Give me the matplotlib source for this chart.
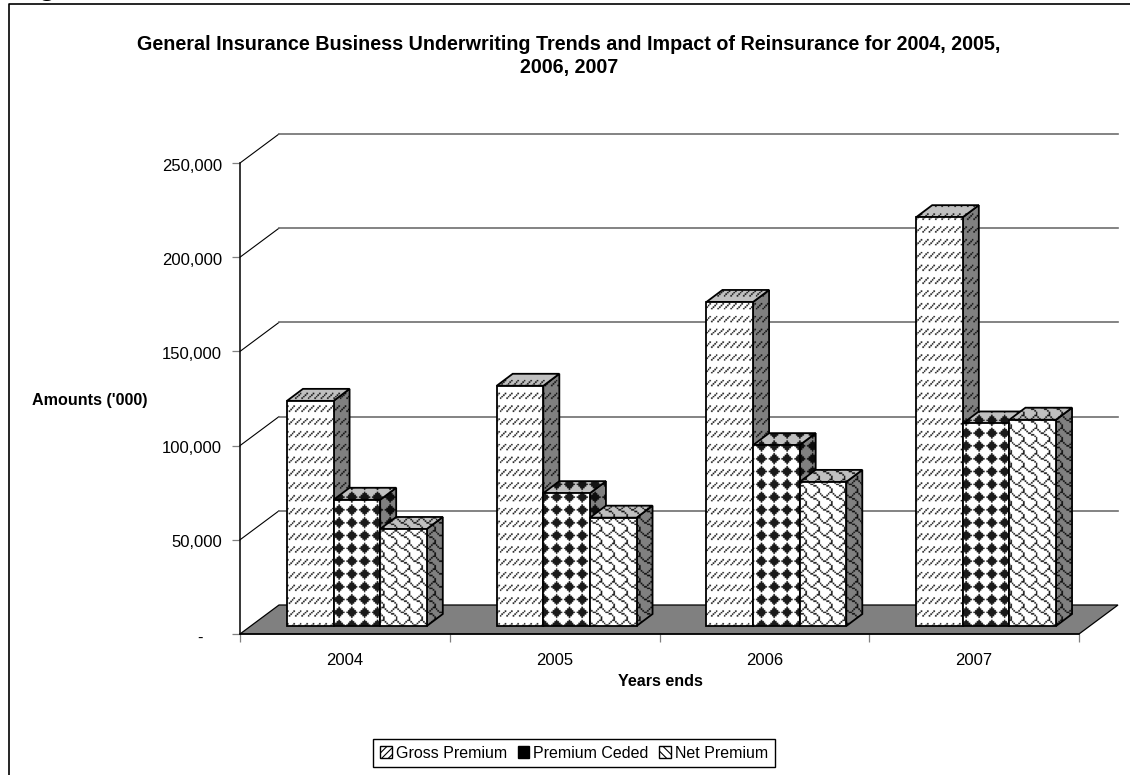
import numpy as np
import matplotlib
matplotlib.use("Agg")
import matplotlib.pyplot as plt
from matplotlib.lines import Line2D
from matplotlib.patches import Patch, Polygon
from matplotlib.transforms import Affine2D, IdentityTransform

plt.rcParams["font.family"] = ["Liberation Sans", "DejaVu Sans"]
plt.rcParams["hatch.linewidth"] = 0.8

YEARS = ["2004", "2005", "2006", "2007"]
SERIES = ["Gross Premium", "Premium Ceded", "Net Premium"]
GROSS = [119500, 127500, 172000, 217000]
CEDED = [67000, 70500, 96000, 107500]
NET = [51500, 57500, 76500, 109500]
Y_TICKS = [0, 50000, 100000, 150000, 200000, 250000]
Y_LABELS = ["-    ", "50,000", "100,000", "150,000", "200,000", "250,000"]

TITLE = ("General Insurance Business Underwriting Trends and Impact of "
         "Reinsurance for 2004, 2005,\n2006, 2007")

W, H = 1130, 775
FONT = 12
GRAY = "#808080"

# 8x8 fill bitmaps, one byte per row
DASHED = [0x11, 0x22, 0x44, 0x88, 0x00, 0x00, 0x00, 0x00]
DIAMOND = [0x10, 0x38, 0x7C, 0xFE, 0x7C, 0x38, 0x10, 0x00]
SHINGLE = [0x03, 0x84, 0x48, 0x30, 0x0C, 0x02, 0x01, 0x01]
CELL = 1.6  # pixels per bitmap cell
OVER = 3    # oversampling of the fill image

fig = plt.figure(figsize=(W / 100, H / 100), dpi=100)
ax = fig.add_axes([240 / W, 1 - 634 / H, (1079 - 240) / W, (634 - 163) / H])
ax.set_xlim(0, 4)
ax.set_ylim(0, 250000)
ax.autoscale(False)
ax.patch.set_alpha(0)
IDENT = IdentityTransform()


def px(x, v, dx=0, dy=0):
    """Data point pushed back by (dx, dy) pixels, in display coordinates."""
    p = ax.transData.transform((x, v))
    return (p[0] + dx, p[1] + dy)


def fill_image(bitmap, phase, x0, x1, y0, y1):
    """RGBA array of the bitmap tiled over a display rectangle."""
    xs = np.arange(x0 * OVER, x1 * OVER) / OVER - phase[0]
    ys = H - np.arange(y1 * OVER, y0 * OVER, -1) / OVER - phase[1]
    cols = (xs / CELL).astype(int) % 8
    rows = (ys / CELL).astype(int) % 8
    bits = np.array([[(b >> (7 - i)) & 1 for i in range(8)] for b in bitmap])
    ink = bits[np.ix_(rows, cols)]
    img = np.zeros(ink.shape + (4,))
    img[..., 3] = ink * 0.9
    return img


def face(points, color, bitmap, phase):
    poly = Polygon(points, closed=True, facecolor=color, edgecolor="none",
                   transform=IDENT, clip_on=False, zorder=3)
    ax.add_patch(poly)
    xy = np.array(points)
    x0, x1 = int(xy[:, 0].min()) - 1, int(xy[:, 0].max()) + 2
    y0, y1 = int(xy[:, 1].min()) - 1, int(xy[:, 1].max()) + 2
    im = ax.imshow(fill_image(bitmap, phase, x0, x1, y0, y1),
                   extent=(x0, x1, y0, y1), transform=IDENT, origin="upper",
                   aspect="auto", zorder=3, interpolation="antialiased")
    im.set_clip_path(poly)
    ax.add_patch(Polygon(points, closed=True, fill=False, edgecolor="black",
                         linewidth=1.3, joinstyle="miter", transform=IDENT,
                         clip_on=False, zorder=3))


def bar3d(x, w, v, bitmap, phase):
    # front plane sits 12,8 px behind the axis, the box is 16,12 px deep
    fx, fy = 12, 8
    dx, dy = 16, 12
    front = [px(x, 0, fx, fy), px(x + w, 0, fx, fy),
             px(x + w, v, fx, fy), px(x, v, fx, fy)]
    side = [px(x + w, 0, fx, fy), px(x + w, 0, fx + dx, fy + dy),
            px(x + w, v, fx + dx, fy + dy), px(x + w, v, fx, fy)]
    top = [px(x, v, fx, fy), px(x + w, v, fx, fy),
           px(x + w, v, fx + dx, fy + dy), px(x, v, fx + dx, fy + dy)]
    face(side, GRAY, bitmap, phase)
    face(top, "#c0c0c0", bitmap, phase)
    face(front, "white", bitmap, phase)


# back wall gridlines, floor excluded
BACK = (39, 29)
for t in Y_TICKS[1:]:
    a, b, c = px(0, t), px(0, t, *BACK), px(4, t, *BACK)
    ax.add_line(Line2D([a[0], b[0]], [a[1], b[1]], color="black", lw=0.8,
                       transform=IDENT, clip_on=False, zorder=1))
    ax.add_line(Line2D([b[0], c[0]], [b[1], c[1]], color="#6e6e6e", lw=1.2,
                       transform=IDENT, clip_on=False, zorder=1))

ax.add_patch(Polygon([px(0, 0), px(4, 0), px(4, 0, *BACK), px(0, 0, *BACK)],
                     closed=True, facecolor=GRAY, edgecolor="black",
                     linewidth=0.9, transform=IDENT, clip_on=False, zorder=2))

bar_w = 2 / 9
margin = 1 / 6
fills = [(GROSS, DASHED, (0.5, 8.5)), (CEDED, DIAMOND, (0.5, 5)),
         (NET, SHINGLE, (0.5, 5))]
for i in range(len(YEARS)):
    for j, (vals, bitmap, phase) in enumerate(fills):
        bar3d(i + margin + j * bar_w, bar_w, vals[i], bitmap, phase)

ax.set_xlim(0, 4)
ax.set_ylim(0, 250000)

for s in ["top", "right"]:
    ax.spines[s].set_visible(False)
for s in ["left", "bottom"]:
    ax.spines[s].set_linewidth(1.1)
    ax.spines[s].set_zorder(2.5)

ax.set_yticks(Y_TICKS)
ax.set_yticklabels(Y_LABELS, fontsize=FONT)
ax.set_xticks(range(5))
ax.set_xticklabels([])
ax.set_xticks(np.arange(len(YEARS)) + 0.5, minor=True)
ax.set_xticklabels(YEARS, minor=True, fontsize=FONT)
ax.tick_params(axis="y", length=6, width=0.9, color=GRAY, pad=7)
ax.tick_params(axis="x", which="major", length=6, width=0.9, color=GRAY)
ax.tick_params(axis="x", which="minor", length=0, pad=14)

# value labels sit a little under their ticks
nudge = Affine2D().translate(0, -1.5)
for lbl in ax.get_yticklabels():
    lbl.set_transform(lbl.get_transform() + nudge)

fig.text(569 / W, 1 - 56 / H, TITLE, ha="center", va="center", fontsize=14.2,
         fontweight="bold", linespacing=1.28)
fig.text(90 / W, 1 - 400 / H, "Amounts ('000)", ha="center", va="center",
         fontsize=11.6, fontweight="bold")
fig.text(660 / W, 1 - 681 / H, "Years ends", ha="center", va="center",
         fontsize=11.6, fontweight="bold")

# chart area edge, only the left and top sides fall inside the canvas
fig.add_artist(Line2D([8.5 / W, 8.5 / W, 1], [0, 1 - 3.5 / H, 1 - 3.5 / H],
                      color="black", lw=1.2, transform=fig.transFigure))
fig.text(47 / W, 1 + 6 / H, "g", ha="center", va="baseline", fontsize=22,
         fontweight="bold")

handles = [
    Patch(facecolor="white", edgecolor="black", hatch="/////", label=SERIES[0]),
    Patch(facecolor="black", edgecolor="black", label=SERIES[1]),
    Patch(facecolor="white", edgecolor="black", hatch="\\\\\\\\", label=SERIES[2]),
]
fig.legend(handles=handles, loc="center", ncol=3,
           bbox_to_anchor=(574 / W, 1 - 753 / H), fontsize=11.5, frameon=True,
           fancybox=False, edgecolor="black", framealpha=1, borderpad=0.42,
           handlelength=0.72, handleheight=0.72, handletextpad=0.25,
           columnspacing=0.68, borderaxespad=0)

fig.savefig("out.png", dpi=100)
